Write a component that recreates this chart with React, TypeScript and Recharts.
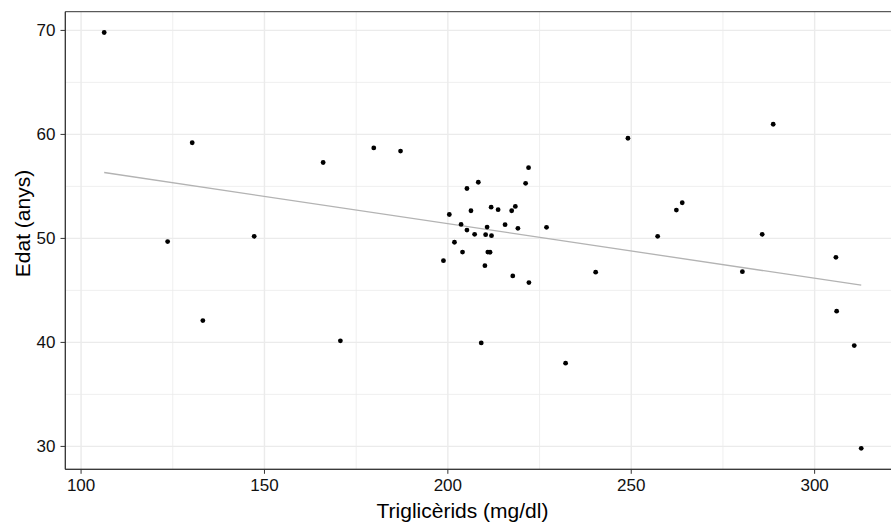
import React from "react";
import {
  ScatterChart,
  Scatter,
  XAxis,
  YAxis,
  CartesianGrid,
  ReferenceLine,
  ReferenceArea,
} from "recharts";

// Triglicèrids (mg/dl)
const triglicerids = [
  106.3, 130.3, 123.6, 147.2, 133.2, 170.7, 166.0, 179.8, 187.1, 209.1, 232.1,
  222.0, 208.3, 221.2, 205.2, 200.4, 206.3, 211.8, 213.7, 217.4, 218.4,
  203.6, 210.7, 215.6, 219.1, 226.9, 205.2, 207.3, 210.3, 211.9, 201.8,
  204.0, 210.9, 211.5, 198.8, 210.1, 217.7, 222.1, 240.3,
  249.1, 288.7, 263.9, 262.3, 257.2, 285.7, 280.3, 305.8, 306.0, 310.8, 312.7,
];
// Edat (anys)
const edat = [
  69.8, 59.2, 49.7, 50.2, 42.1, 40.15, 57.3, 58.7, 58.4, 39.95, 38.0,
  56.8, 55.4, 55.3, 54.8, 52.3, 52.66, 53.0, 52.76, 52.66, 53.08,
  51.35, 51.09, 51.32, 50.97, 51.07, 50.8, 50.39, 50.36, 50.26, 49.63,
  48.69, 48.69, 48.67, 47.86, 47.38, 46.39, 45.75, 46.75,
  59.63, 60.98, 53.43, 52.73, 50.2, 50.39, 46.8, 48.18, 43.0, 39.7, 29.82,
];
// fitted regression line endpoints
const fitX = [106.3, 312.7];
const fitY = [56.34, 45.5];

const xTicks = [100, 150, 200, 250, 300];
const xMinor = [125, 175, 225, 275];
const yTicks = [30, 40, 50, 60, 70];
const yMinor = [35, 45, 55, 65];
const xDomain = [95.7, 323];
const yDomain = [27.8, 71.8];

const points = triglicerids.map((x, i) => ({ x, y: edat[i] }));

const FONT = '"Liberation Sans", Arial, sans-serif';

const Dot = (props: any) => (
  <circle cx={props.cx} cy={props.cy} r={2.4} fill="#000" />
);

export default function App() {
  return (
    <div
      style={{
        position: "fixed",
        left: 0,
        top: 0,
        width: 891,
        height: 522,
        overflow: "hidden",
        background: "#fff",
      }}
    >
      <ScatterChart
        width={899}
        height={522}
        margin={{ top: 11.7, right: 0, bottom: 0, left: 0 }}
        style={{ fontFamily: FONT }}
      >
        <CartesianGrid
          stroke="#ebebeb"
          strokeWidth={0.8}
          horizontalValues={yMinor}
          verticalValues={xMinor}
        />
        <CartesianGrid
          stroke="#ebebeb"
          strokeWidth={1.4}
          horizontalValues={yTicks}
          verticalValues={xTicks}
        />
        <XAxis
          type="number"
          dataKey="x"
          domain={xDomain}
          ticks={xTicks}
          allowDataOverflow
          height={52.7}
          tickSize={4.5}
          tickMargin={5.5}
          stroke="#333"
          tick={{ fill: "#111", fontSize: 17, fontFamily: FONT }}
          label={{
            content: (p: any) => {
              const vb = p.viewBox || { x: 65.3, y: 469.3, width: 833.7, height: 52.7 };
              return (
                <text
                  x={462.5}
                  y={vb.y + vb.height - 4}
                  textAnchor="middle"
                  fill="#000"
                  fontSize={21}
                  fontFamily={FONT}
                >
                  Triglicèrids (mg/dl)
                </text>
              );
            },
          }}
        />
        <YAxis
          type="number"
          dataKey="y"
          domain={yDomain}
          ticks={yTicks}
          allowDataOverflow
          width={65.3}
          tickSize={4.8}
          tickMargin={5}
          stroke="#333"
          tick={{ fill: "#111", fontSize: 17, fontFamily: FONT }}
          label={{
            content: (p: any) => {
              const vb = p.viewBox || { x: 0, y: 11.7, width: 65.3, height: 457.6 };
              const cx = vb.x + 29.5;
              const cy = 223.5;
              return (
                <text
                  x={cx}
                  y={cy}
                  transform={`rotate(-90 ${cx} ${cy})`}
                  textAnchor="middle"
                  fill="#000"
                  fontSize={21}
                  fontFamily={FONT}
                >
                  Edat (anys)
                </text>
              );
            },
          }}
        />
        <ReferenceArea
          x1={xDomain[0]}
          x2={xDomain[1]}
          y1={yDomain[0]}
          y2={yDomain[1]}
          fill="none"
          stroke="#333"
          strokeWidth={1}
          ifOverflow="visible"
        />
        <Scatter data={points} shape={Dot} isAnimationActive={false} />
        <ReferenceLine
          segment={[
            { x: fitX[0], y: fitY[0] },
            { x: fitX[1], y: fitY[1] },
          ]}
          stroke="#b3b3b3"
          strokeWidth={1.3}
          ifOverflow="visible"
        />
      </ScatterChart>
    </div>
  );
}
